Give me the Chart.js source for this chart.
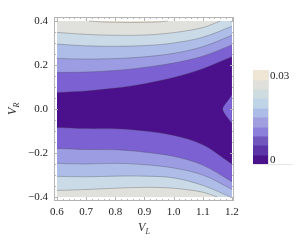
<!DOCTYPE html>
<html><head><meta charset="utf-8">
<script src="https://cdn.jsdelivr.net/npm/chart.js@4.4.1/dist/chart.umd.min.js"></script>
<style>html,body{margin:0;padding:0;background:#fff}#wrap{width:300px;height:241px}</style>
</head><body><div id="wrap"><canvas id="c" width="300" height="241"></canvas></div>
<script>
// tick labels
const xTicks = [0.6, 0.7, 0.8, 0.9, 1.0, 1.1, 1.2];
const yTicks = [-0.4, -0.2, 0.0, 0.2, 0.4];
// contour lines (V_L -> V_R)
const xs = [0.6, 0.7, 0.8, 0.9, 1.0, 1.1, 1.2];
const u5 = [0.075, 0.082, 0.095, 0.115, 0.143, 0.183, 0.237];
const u4 = [0.166, 0.168, 0.175, 0.189, 0.209, 0.240, 0.291];
const u3 = [0.230, 0.227, 0.229, 0.237, 0.253, 0.283, 0.335];
const u2 = [0.295, 0.287, 0.285, 0.288, 0.300, 0.326, 0.376];
const u1X = [0.6, 0.7, 0.8, 0.9, 1.0, 1.1, 1.16];
const u1 = [0.348, 0.339, 0.335, 0.336, 0.347, 0.370, 0.400];
const u0X = [0.71, 0.75, 0.8, 0.85, 0.9, 0.95, 0.98];
const u0 = [0.400, 0.396, 0.394, 0.393, 0.394, 0.396, 0.400];
const d5 = [-0.084, -0.089, -0.090, -0.100, -0.120, -0.162, -0.250];
const d4 = [-0.179, -0.184, -0.185, -0.196, -0.215, -0.255, -0.330];
const d3 = [-0.247, -0.250, -0.247, -0.253, -0.268, -0.300, -0.365];
const d2X = [0.6, 0.7, 0.8, 0.9, 1.0, 1.1, 1.195];
const d2 = [-0.306, -0.308, -0.305, -0.305, -0.313, -0.347, -0.400];
const d1X = [0.6, 0.7, 0.8, 0.9, 1.0, 1.1, 1.15];
const d1 = [-0.370, -0.366, -0.360, -0.356, -0.360, -0.378, -0.400];
const bumpX = [1.168, 1.172, 1.185, 1.2];
const bumpUp = [0.0, 0.012, 0.035, 0.064];
const bumpDn = [0.0, -0.015, -0.040, -0.065];
const baseX = [0.6, 1.2];
const baseY = [-0.4, -0.4];
// legend
const legendLabels = ['0', '0.03'];
const legendColors = ['#4a128b','#5b34a8','#7157bd','#8c7fdb','#9f9fe0','#adbce6','#bfd5e7','#cedce0','#dfdfdb','#efe6d5'];

const C = {dark:'#4b108c', purple:'#7b61d2', medium:'#9b9ce2', peri:'#aebde8', lblue:'#cadae6', gray:'#e0e1dd', beige:'#efe5d3', bump:'#7f66d6'};
const lineCol = 'rgba(70,70,70,0.55)';
function mk(xa, ya, color, fill, bw) {
  return {data: xa.map((x, i) => ({x: x, y: ya[i]})), showLine: true, pointRadius: 0,
    borderColor: lineCol, borderWidth: bw === undefined ? 0.6 : bw, backgroundColor: color,
    fill: fill, tension: 0.35};
}
const TOP = {value: 0.4}, BOT = {value: -0.4};
const ds = [
  mk(baseX, baseY, C.dark, TOP, 0),
  mk(xs, u5, C.purple, TOP), mk(xs, u4, C.medium, TOP), mk(xs, u3, C.peri, TOP),
  mk(xs, u2, C.lblue, TOP), mk(u1X, u1, C.gray, TOP), mk(u0X, u0, C.beige, TOP),
  mk(xs, d5, C.purple, BOT), mk(xs, d4, C.medium, BOT), mk(xs, d3, C.peri, BOT),
  mk(d2X, d2, C.lblue, BOT), mk(d1X, d1, C.gray, BOT),
  mk(bumpX, bumpUp, C.bump, false), mk(bumpX, bumpDn, C.bump, '-1')
];
ds.forEach((d, i) => d.order = 100 - i);

const serif = '"Liberation Serif", "DejaVu Serif", serif';
const frameCol = '#b4b4b4';
const deco = {
  id: 'deco',
  afterDraw(chart) {
    const ctx = chart.ctx, a = chart.chartArea, xs_ = chart.scales.x, ys_ = chart.scales.y;
    ctx.save();
    ctx.strokeStyle = frameCol; ctx.lineWidth = 1;
    ctx.strokeRect(Math.round(a.left) + 0.5, Math.round(a.top) + 0.5, Math.round(a.right - a.left) - 1, Math.round(a.bottom - a.top) - 1);
    ctx.beginPath();
    for (let k = 0; k <= 30; k++) {
      const v = 0.6 + 0.02 * k, p = Math.round(xs_.getPixelForValue(v)) + 0.5;
      const L = (k % 5 === 0) ? 4 : 2;
      ctx.moveTo(p, a.bottom); ctx.lineTo(p, a.bottom - L);
      ctx.moveTo(p, a.top); ctx.lineTo(p, a.top + L);
    }
    for (let k = 0; k <= 16; k++) {
      const v = -0.4 + 0.05 * k, p = Math.round(ys_.getPixelForValue(v)) + 0.5;
      const L = (k % 4 === 0) ? 4 : 2;
      ctx.moveTo(a.left, p); ctx.lineTo(a.left + L, p);
      ctx.moveTo(a.right, p); ctx.lineTo(a.right - L, p);
    }
    ctx.stroke();
    // axis titles
    ctx.fillStyle = '#333';
    ctx.font = 'italic 12px ' + serif;
    ctx.textBaseline = 'alphabetic';
    const cx = (a.left + a.right) / 2;
    ctx.fillText('V', cx - 6, 231);
    ctx.font = 'italic 8px ' + serif;
    ctx.fillText('L', cx + 1.5, 234);
    ctx.translate(16, (a.top + a.bottom) / 2);
    ctx.rotate(-Math.PI / 2);
    ctx.font = 'italic 12px ' + serif;
    ctx.fillText('V', -6, 0);
    ctx.font = 'italic 8px ' + serif;
    ctx.fillText('R', 1.5, 3);
    ctx.restore();
    // colour bar legend
    ctx.save();
    const lx = 253, lw = 15, ly = 70, lh = 94, n = legendColors.length;
    for (let i = 0; i < n; i++) {
      ctx.fillStyle = legendColors[i];
      const y0 = ly + lh - (i + 1) * lh / n;
      ctx.fillRect(lx, Math.floor(y0), lw, Math.ceil(lh / n) + 0.5);
    }
    ctx.strokeStyle = '#e6e6e6'; ctx.lineWidth = 1;
    ctx.beginPath();
    ctx.moveTo(lx + lw + 0.5, ly); ctx.lineTo(lx + lw + 0.5, ly + lh);
    ctx.moveTo(lx, ly + lh + 0.5); ctx.lineTo(lx + 40, ly + lh + 0.5);
    ctx.stroke();
    ctx.fillStyle = '#222';
    ctx.font = '11px ' + serif;
    ctx.textBaseline = 'middle';
    ctx.fillText(legendLabels[1], lx + lw + 2, ly + 6);
    ctx.fillText(legendLabels[0], lx + lw + 2, ly + lh - 4);
    ctx.restore();
  }
};

new Chart(document.getElementById('c'), {
  type: 'scatter',
  data: {datasets: ds},
  options: {
    responsive: false, animation: false, devicePixelRatio: 1,
    layout: {padding: {left: 0, right: 66, top: 17, bottom: 0}},
    plugins: {legend: {display: false}, tooltip: {enabled: false}, title: {display: false}},
    scales: {
      x: {type: 'linear', min: 0.59, max: 1.207,
        afterBuildTicks: s => { s.ticks = xTicks.map(v => ({value: v})); },
        afterFit: s => { s.height = 40; },
        grid: {display: false, drawTicks: false}, border: {display: false},
        ticks: {padding: 5, autoSkip: false, maxRotation: 0, color: '#222',
          font: {family: serif, size: 11}, callback: v => v.toFixed(1)}},
      y: {type: 'linear', min: -0.418, max: 0.418,
        afterBuildTicks: s => { s.ticks = yTicks.map(v => ({value: v})); },
        afterFit: s => { s.width = 54; },
        grid: {display: false, drawTicks: false}, border: {display: false},
        ticks: {padding: 6, autoSkip: false, color: '#222',
          font: {family: serif, size: 11},
          callback: v => (v < -1e-9 ? '\u2212' + Math.abs(v).toFixed(1) : Math.abs(v).toFixed(1))}}
    }
  },
  plugins: [deco]
});
</script></body></html>
